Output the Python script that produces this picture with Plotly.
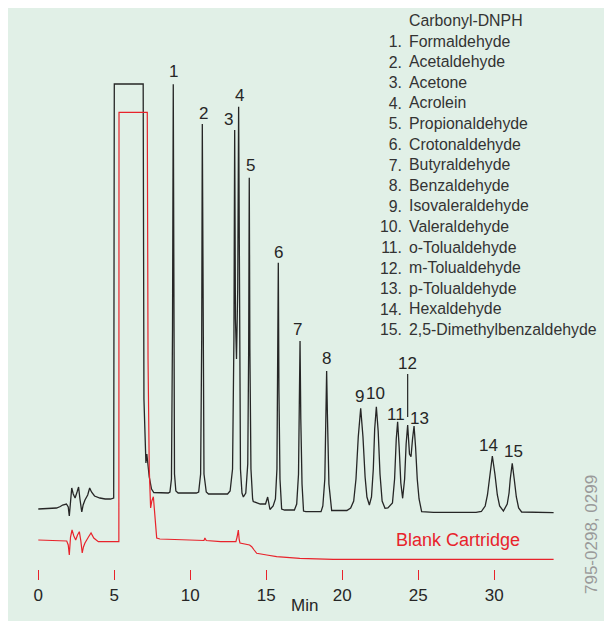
"""
Carbonyl-DNPH 色谱图
"""
import plotly.graph_objects as go

# 保留时间 (min) 和峰高 (任意单位)
peak_labels = ['1', '2', '3', '4', '5', '6', '7', '8', '9', '10', '11', '12', '13', '14', '15']
peak_times = [8.88, 10.79, 12.92, 13.18, 13.88, 15.79, 17.22, 18.97,
              21.21, 22.24, 23.64, 24.30, 24.72, 29.87, 31.18]
peak_heights = [424.7, 385, 379, 402.3, 331.3, 246.3, 168, 138,
                100.7, 102.3, 87.3, 84, 83, 53, 45.7]

compounds = [
    'Formaldehyde', 'Acetaldehyde', 'Acetone', 'Acrolein', 'Propionaldehyde',
    'Crotonaldehyde', 'Butyraldehyde', 'Benzaldehyde', 'Isovaleraldehyde',
    'Valeraldehyde', 'o-Tolualdehyde', 'm-Tolualdehyde', 'p-Tolualdehyde',
    'Hexaldehyde', '2,5-Dimethylbenzaldehyde',
]

# 标准品色谱 (黑线)
std_time = [
    0.0, 1.2, 1.45, 1.6, 1.85, 1.97, 2.04, 2.12, 2.2, 2.3, 2.42, 2.55, 2.65, 2.74,
    2.86, 2.95, 3.07, 3.25, 3.38, 3.5, 3.7, 4.05, 4.4, 4.75, 4.96, 5.0, 6.9, 6.95,
    7.02, 7.08, 7.14, 7.3, 7.45, 7.6, 8.55,
    8.66, 8.76, 8.83, 8.88, 8.92, 8.96, 9.05, 9.2, 10.4,
    10.55, 10.68, 10.75, 10.79, 10.83, 10.9, 11.05, 11.2, 12.45,
    12.62, 12.78, 12.87, 12.92, 12.97, 13.04, 13.12, 13.18, 13.23, 13.3, 13.4, 13.49,
    13.65, 13.78, 13.84, 13.88, 13.92, 13.99, 14.1, 14.14, 14.6, 14.95, 15.09, 15.16,
    15.24, 15.45,
    15.6, 15.7, 15.76, 15.79, 15.83, 15.9, 16.01, 16.2, 16.85,
    17.0, 17.12, 17.18, 17.22, 17.27, 17.35, 17.45, 17.6, 18.6,
    18.72, 18.85, 18.93, 18.97, 19.02, 19.12, 19.3, 19.8, 20.3,
    20.55, 20.75, 20.9, 21.05, 21.21, 21.36, 21.5, 21.62, 21.78,
    21.92, 22.04, 22.13, 22.24, 22.36, 22.48, 22.62, 22.81, 23.0,
    23.3, 23.44, 23.55, 23.64, 23.74, 23.85, 23.97,
    24.1, 24.2, 24.3, 24.42, 24.52,
    24.62, 24.72, 24.82, 24.93, 25.05, 25.22, 26.0, 28.8,
    29.15, 29.4, 29.55, 29.7, 29.87, 30.04, 30.2, 30.35, 30.55,
    30.6, 30.85, 30.97, 31.05, 31.18, 31.31, 31.45, 31.6, 31.8, 33.9,
]
std_signal = [
    0, 1, 2.5, 4, 5, 2, -7, 12, 21, 15, 11, 17, 22, 10,
    -3, 4, 9, 14, 21, 17, 13, 11, 10, 10, 11, 425, 425, 110,
    56, 46, 55, 32, 20, 16.5, 16,
    17, 30, 180, 424.7, 180, 35, 18, 16, 16,
    17, 35, 170, 385, 170, 35, 17, 15, 15,
    18, 40, 170, 379, 190, 150, 220, 402.3, 180, 40, 16, 12,
    16, 45, 160, 331.3, 160, 40, 10, 7.5, 5, 5, 12, 6,
    -0.5, 3,
    10, 40, 130, 246.3, 120, 30, 0, -1, -1,
    5, 35, 100, 168, 90, 25, -2, -2.7, -2.7,
    3, 30, 100, 138, 95, 25, -1.5, -1.7, -1.5,
    1, 8, 30, 72, 100.7, 72, 32, 12, 4,
    12, 40, 80, 102.3, 78, 35, 8, 0.7, 1,
    6, 30, 70, 87.3, 62, 26, 10.7,
    30, 65, 84, 55, 52.3,
    70, 83, 62, 30, 10, -2.7, -3.3, -3.3,
    -2.5, 3, 14, 35, 53, 35, 14, 3, -2,
    -2, 5, 16, 30, 45.7, 30, 12, 1, -3, -3.7,
]

# 空白采样管 (红线)
blank_time = [
    0.0, 1.87, 1.97, 2.04, 2.12, 2.22, 2.34, 2.46, 2.58, 2.7, 2.8, 2.89, 2.97, 3.07,
    3.3, 3.47, 3.65, 3.95, 5.16, 5.3, 5.31, 7.17, 7.22, 7.3, 7.39, 7.47, 7.57, 7.65,
    7.72, 7.79, 8.0, 9.0, 10.0, 10.9, 10.96, 11.05, 12.0, 13.0, 13.08, 13.16, 13.22,
    13.27, 13.9, 14.04, 14.2, 14.37, 15.03, 15.68, 17.2, 19.4, 33.9,
]
blank_signal = [
    -31, -32, -36, -46, -28, -21, -27, -31, -26, -22.7, -32, -44, -38, -34,
    -28, -24, -29, -32.7, -32.7, -32.7, 396.7, 396.7, 150, 40, 1, 8, 12.3, -5,
    -22, -29, -30, -30.5, -31, -31.5, -29, -31.5, -32.7, -32.7, -28, -21, -31,
    -34, -36, -37.7, -41, -44.3, -46, -47.7, -49.3, -50.3, -50.3,
]

tick_values = [0, 5, 10, 15, 20, 25, 30]

# 标签偏移 (像素)
label_dx = [0, 1, -6, 1, 1, 0, -3, 0, -1, -1, -2, -2, 5, -4, 1]
label_dy = [13, 11, 11, 11, 12, 10, 12, 13, 12, 13, 7, 62, 8, 11, 12]

FONT = 'Liberation Sans, Arial, sans-serif'
BLACK = '#262626'
RED = '#e8232b'

fig = go.Figure()

fig.add_trace(go.Scatter(
    x=std_time, y=std_signal, mode='lines',
    line=dict(color=BLACK, width=1.3), hoverinfo='skip',
))
fig.add_trace(go.Scatter(
    x=blank_time, y=blank_signal, mode='lines',
    line=dict(color=RED, width=1.2), hoverinfo='skip',
))

annotations = []
for i, lab in enumerate(peak_labels):
    if lab == '12':
        annotations.append(dict(
            x=peak_times[i], y=peak_heights[i] + 8, text=lab,
            showarrow=True, arrowhead=0, arrowwidth=1.2, arrowcolor=BLACK,
            ax=0, ay=-54, standoff=0,
            font=dict(size=17, color=BLACK),
        ))
    else:
        annotations.append(dict(
            x=peak_times[i], y=peak_heights[i], text=lab, showarrow=False,
            xshift=label_dx[i], yshift=label_dy[i], yanchor='middle',
            font=dict(size=17, color=BLACK),
        ))

# 化合物列表
annotations.append(dict(
    xref='paper', yref='paper', x=0.6606, y=0.9965, xanchor='left', yanchor='top',
    align='left', showarrow=False,
    text='<br>'.join(['Carbonyl-DNPH'] + compounds),
    font=dict(size=15.85, color='#333333'),
))
annotations.append(dict(
    xref='paper', yref='paper', x=0.6556, y=0.9965 - 20.6 / 613, xanchor='right',
    yanchor='top', align='right', showarrow=False,
    text='<br>'.join(f'{n}.' for n in range(1, len(compounds) + 1)),
    font=dict(size=15.85, color='#333333'),
))

annotations.append(dict(
    x=27.63, y=-31, text='Blank Cartridge', showarrow=False,
    font=dict(size=18, color=RED),
))
annotations.append(dict(
    x=17.48, y=-96, text='Min', showarrow=False,
    font=dict(size=17, color=BLACK),
))
annotations.append(dict(
    xref='paper', yref='paper', x=0.9652, y=0.1419, text='795-0298, 0299',
    xanchor='center', yanchor='middle', textangle=-90, showarrow=False,
    font=dict(size=17, color='#9a9a9a'),
))

fig.update_layout(
    width=604, height=613,
    margin=dict(l=0, r=0, t=0, b=0, pad=0),
    paper_bgcolor='white',
    plot_bgcolor='#e1f0e7',
    showlegend=False,
    font=dict(family=FONT),
    annotations=annotations,
    xaxis=dict(
        range=[-1.993, 37.743], showgrid=False, zeroline=False, showline=False,
        anchor='free', position=0.0843,
        tickvals=tick_values, ticks='outside', ticklen=10, tickwidth=1.2,
        tickcolor=RED, tickfont=dict(size=17, color=BLACK),
    ),
    yaxis=dict(range=[-112, 501], visible=False),
)

fig.write_html("out.html")
